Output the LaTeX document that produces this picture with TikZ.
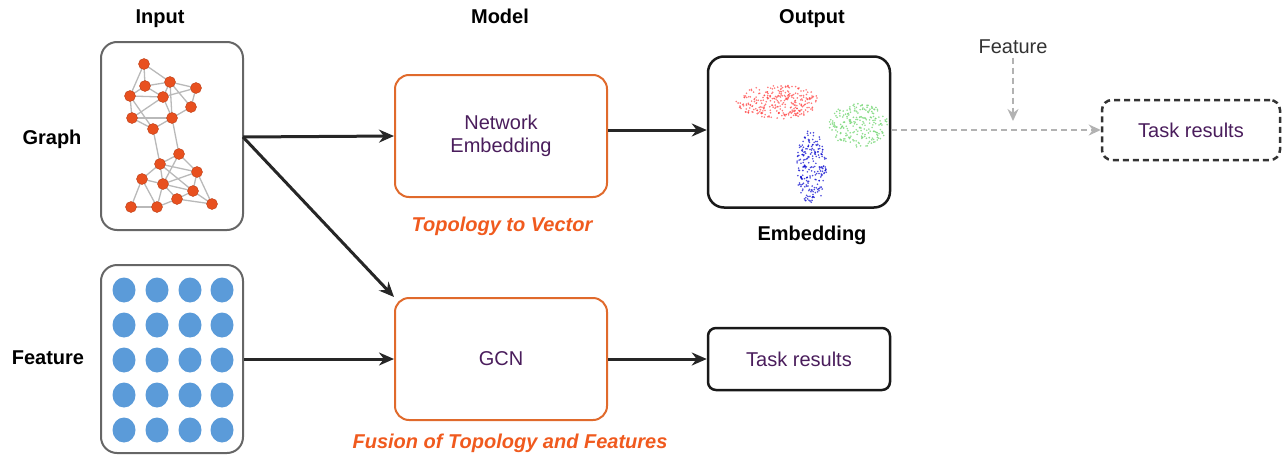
\documentclass[tikz,border=0pt]{standalone}
\usepackage{fontspec}
\setmainfont{Liberation Sans}
\usetikzlibrary{arrows.meta}
\definecolor{txt}{HTML}{4A1D5C}
\definecolor{org}{HTML}{E06A2C}
\definecolor{ttl}{HTML}{F05A1E}
\definecolor{dotb}{HTML}{5B9BD9}
\definecolor{gn}{HTML}{E8501F}
\begin{document}
\begin{tikzpicture}[x=1pt,y=-1pt,
 hdr/.style={font=\bfseries\fontsize{20}{23}\selectfont,anchor=base},
 lbl/.style={font=\fontsize{20}{23}\selectfont,text=txt,align=center},
 obox/.style={draw=org,line width=2pt,rounded corners=14pt},
 arr/.style={-{Stealth[length=15pt,width=13pt]},line width=3pt,draw=black!85},
 darr/.style={-{Stealth[length=12pt,width=11pt]},dashed,dash pattern=on 6pt off 4pt,line width=2.5pt,draw=gray!60},
 gnode/.style={circle,fill=gn,draw=gn!80!black,line width=.4pt,inner sep=0pt,minimum size=11pt},
 it/.style={font=\bfseries\itshape\fontsize{20}{23}\selectfont,text=ttl}]
\useasboundingbox (0,0) rectangle (1287,466);
% headers
\node[hdr] (hin) at (160,23) {Input};
\node[hdr] (hmo) at (500,23) {Model};
\node[hdr] (hou) at (812,23) {Output};
\node[hdr] (lg) at (52,144) {Graph};
\node[hdr] (lf) at (48,364) {Feature};
% graph box
\node[draw=black!60,line width=2pt,rounded corners=16pt,minimum width=142pt,minimum height=188pt] (gb) at (172,136) {};
\foreach \n/\x/\y in {a/144/64,b/145/86,c/170/82,d/196/88,e/130/96,f/163/97,g/191/107,h/132/118,i/172/118,j/153/129,k/179/154,l/160/164,m/197/172,n/142/179,o/163/184,p/193/191,q/177/199,r/131/207,s/157/207,t/212/204}
  \coordinate (\n) at (\x,\y);
\foreach \u/\v in {a/b,a/c,a/e,b/c,b/f,c/d,c/f,c/g,c/i,d/g,e/b,e/f,e/h,f/i,f/h,g/i,h/j,h/i,i/j,e/j,d/f,j/l,i/k,k/l,k/m,l/n,l/o,l/m,k/o,m/p,m/o,n/o,n/r,o/p,o/q,p/q,q/s,r/s,s/o,p/t,m/t,n/s,l/p,q/t}
  \draw[gray!55,line width=1.3pt] (\u)--(\v);
\foreach \n in {a,b,c,d,e,f,g,h,i,j,k,l,m,n,o,p,q,r,s,t}
  \node[gnode] (N\n) at (\n) {};
% feature box
\node[draw=black!60,line width=2pt,rounded corners=16pt,minimum width=142pt,minimum height=188pt] (fb) at (172,359) {};
\foreach \x in {124,157,190,222}\foreach \y in {290,325,360,395,430}
  \fill[dotb] (\x,\y) ellipse (11.5pt and 12.5pt);
% model boxes
\node[obox,minimum width=212pt,minimum height=122pt,lbl] (ne) at (501,136) {Network\\Embedding};
\node[obox,minimum width=212pt,minimum height=122pt,lbl] (gcn) at (501,359) {GCN};
\node[it] (t1) at (502,226) {Topology to Vector};
\node[it] (t2) at (510,443) {Fusion of Topology and Features};
% output
\node[draw=black!90,line width=2.5pt,rounded corners=16pt,minimum width=182pt,minimum height=151pt] (emb) at (799,132) {};
\node[hdr] (embl) at (812,240) {Embedding};
\pgfmathsetseed{7}
\foreach \k in {1,...,300}{\pgfmathsetmacro\r{sqrt(rnd)}\pgfmathsetmacro\a{360*rnd}
  \fill[red!75!white,opacity=.7] ({778+42*\r*cos(\a)},{102+17*\r*sin(\a)}) circle (0.9pt);}
\foreach \k in {1,...,220}{\pgfmathsetmacro\r{sqrt(rnd)}\pgfmathsetmacro\a{360*rnd}
  \fill[blue!80!black,opacity=.7] ({795+15*\r*cos(\a)+0.1*(165-0)},{168+38*\r*sin(\a)}) circle (0.9pt);}
\foreach \k in {1,...,220}{\pgfmathsetmacro\r{sqrt(rnd)}\pgfmathsetmacro\a{360*rnd}
  \fill[green!70!black!55!white,opacity=.8] ({858+30*\r*cos(\a)},{125+22*\r*sin(\a)}) circle (0.9pt);}
\node[draw=black!90,line width=2.5pt,rounded corners=8pt,minimum width=182pt,minimum height=62pt,lbl] (tr) at (799,359) {Task results};
\node[draw=black!80,dashed,dash pattern=on 6pt off 4pt,line width=2.5pt,rounded corners=10pt,minimum width=178pt,minimum height=60pt,lbl] (tr2) at (1191,130) {Task results};
\node[font=\fontsize{20}{23}\selectfont,text=black!80] (ft) at (1013,47) {Feature};
\coordinate (fe) at (1013,121);
\coordinate (gsrc) at (243,137);
% arrows
\draw[arr] (gsrc) -- (ne.west);
\draw[arr] (gsrc) -- (gcn.north west);
\draw[arr] (fb.east) -- (gcn.west);
\draw[arr] (ne.east |- 0,130) -- (emb.west |- 0,130);
\draw[arr] (gcn.east) -- (tr.west);
\draw[darr] (emb.east |- 0,130) -- (tr2.west);
\draw[darr] (ft.south) -- (fe);
\end{tikzpicture}
\end{document}
